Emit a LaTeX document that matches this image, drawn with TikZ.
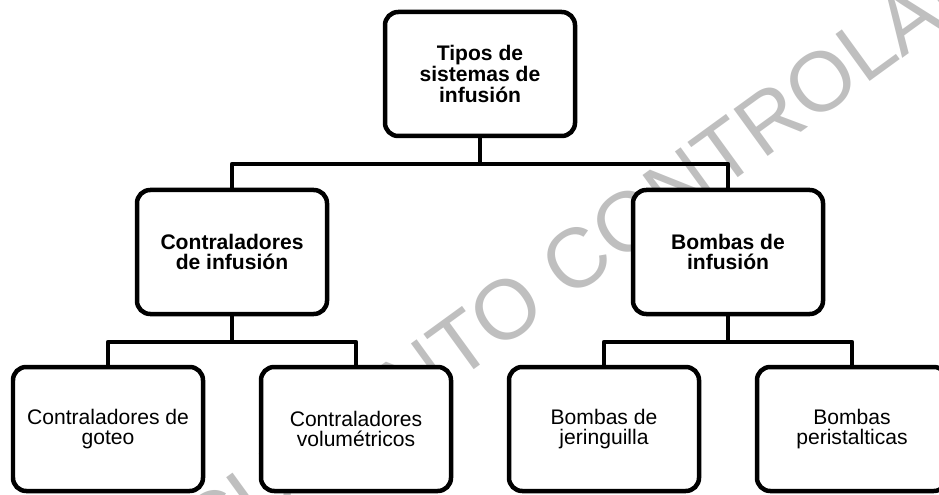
\documentclass[tikz,border=0pt]{standalone}
\usepackage{fontspec}
\setmainfont{Liberation Sans}
\tikzset{
  box/.style={draw, line width=3.2pt, rounded corners=0.33cm, fill=white,
    minimum width=4.75cm, minimum height=3.1cm, align=center, outer sep=0pt,
    font=\fontsize{15}{14.7}\selectfont},
  boxhead/.style={box, font=\fontsize{15}{14.7}\selectfont\bfseries},
  link/.style={line width=3.2pt, line join=round},
  watermark/.style={text=black!25, inner sep=0pt, font=\fontsize{60}{60}\selectfont}
}
\begin{document}
\begin{tikzpicture}
    \useasboundingbox (0,0) rectangle (23.475,12.35);
    % marca de agua
    \node[watermark, rotate=36] (marca) at (14.0,5.575) {DOCUMENTO CONTROLADO};
    % cajas
    \node[boxhead] (tipos) at (12,10.5) {Tipos de\\sistemas de\\infusión};
    \node[boxhead] (contr) at (5.8,6.05) {Contraladores\\de infusión};
    \node[boxhead] (bombas) at (18.2,6.05) {Bombas de\\infusión};
    \node[box] (goteo) at (2.7,1.625) {Contraladores de\\goteo};
    \node[box] (volum) at (8.9,1.625) {Contraladores\\volumétricos};
    \node[box] (jering) at (15.1,1.625) {Bombas de\\jeringuilla};
    \node[box] (perist) at (21.3,1.625) {Bombas\\peristalticas};
    % conexiones
    \draw[link] (tipos.south) -- ++(0,-0.7) -| (contr.north);
    \draw[link] (tipos.south) -- ++(0,-0.7) -| (bombas.north);
    \draw[link] (contr.south) -- ++(0,-0.7) -| (goteo.north);
    \draw[link] (contr.south) -- ++(0,-0.7) -| (volum.north);
    \draw[link] (bombas.south) -- ++(0,-0.7) -| (jering.north);
    \draw[link] (bombas.south) -- ++(0,-0.7) -| (perist.north);
\end{tikzpicture}
\end{document}
